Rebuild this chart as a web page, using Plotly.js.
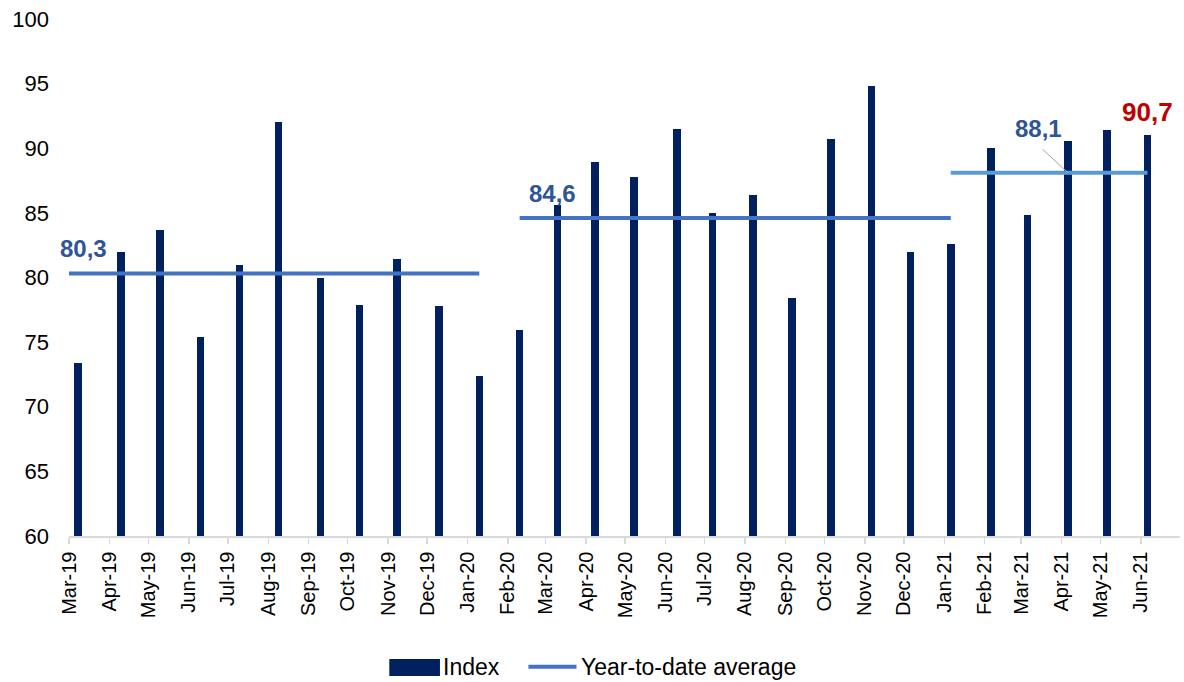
<!DOCTYPE html>
<html>
<head>
<meta charset="utf-8">
<script src="https://cdn.plot.ly/plotly-3.0.1.min.js"></script>
<style>
  html, body { margin: 0; padding: 0; background: #ffffff; }
  #chart { width: 1184px; height: 682px; }
</style>
</head>
<body>
<div id="chart"></div>
<script>
// ---- data ----
const tickLabels = ['Mar-19','Apr-19','May-19','Jun-19','Jul-19','Aug-19','Sep-19','Oct-19','Nov-19','Dec-19',
  'Jan-20','Feb-20','Mar-20','Apr-20','May-20','Jun-20','Jul-20','Aug-20','Sep-20','Oct-20','Nov-20','Dec-20',
  'Jan-21','Feb-21','Mar-21','Apr-21','May-21','Jun-21'];
const tickDates = ['2019-03-01','2019-04-01','2019-05-01','2019-06-01','2019-07-01','2019-08-01','2019-09-01',
  '2019-10-01','2019-11-01','2019-12-01','2020-01-01','2020-02-01','2020-03-01','2020-04-01','2020-05-01',
  '2020-06-01','2020-07-01','2020-08-01','2020-09-01','2020-10-01','2020-11-01','2020-12-01','2021-01-01',
  '2021-02-01','2021-03-01','2021-04-01','2021-05-01','2021-06-01'];
const barDates = ['2019-03-08','2019-04-10','2019-05-10','2019-06-10','2019-07-10','2019-08-09','2019-09-10',
  '2019-10-10','2019-11-08','2019-12-10','2020-01-10','2020-02-10','2020-03-10','2020-04-08','2020-05-08',
  '2020-06-10','2020-07-07','2020-08-07','2020-09-06','2020-10-06','2020-11-06','2020-12-06','2021-01-06',
  '2021-02-06','2021-03-06','2021-04-06','2021-05-06','2021-06-06'];
const indexValues = [73.4, 82.0, 83.7, 75.4, 81.0, 92.0, 80.0, 77.9, 81.4, 77.8, 72.4, 75.9, 85.6, 88.9,
  87.8, 91.5, 85.0, 86.4, 78.4, 90.7, 94.8, 82.0, 82.6, 90.0, 84.8, 90.6, 91.4, 91.0];

const ytd1Dates = ['2019-02-06', '2020-01-10'];
const ytd1Values = [80.3, 80.3];
const ytd2Dates = ['2020-02-10', '2021-01-06'];
const ytd2Values = [84.6, 84.6];
const ytd3Dates = ['2021-01-06', '2021-06-06'];
const ytd3Values = [88.1, 88.1];

const lastLabel = '90,7';
const seriesNames = ['Index', 'Year-to-date average'];

const fmt = v => v.toFixed(1).replace('.', ',');

// ---- styles ----
const FONT = 'Liberation Sans, Arial, sans-serif';
const NAVY = '#002060';
const BLUE = '#4472C4';
const LIGHTBLUE = '#5B9BD5';
const LABELBLUE = '#2F5597';
const RED = '#C00000';
const DAY = 86400000;

const traces = [
  {
    type: 'bar', x: barDates, y: indexValues, name: seriesNames[0],
    width: 5.8 * DAY, marker: { color: NAVY, line: { width: 0 } },
    hoverinfo: 'x+y'
  },
  {
    type: 'scatter', mode: 'lines', x: ytd1Dates, y: ytd1Values, name: seriesNames[1],
    line: { color: BLUE, width: 4 }
  },
  {
    type: 'scatter', mode: 'lines', x: ytd2Dates, y: ytd2Values, name: seriesNames[1],
    line: { color: BLUE, width: 4 }
  },
  {
    type: 'scatter', mode: 'lines', x: ytd3Dates, y: ytd3Values, name: seriesNames[1],
    line: { color: LIGHTBLUE, width: 4 }
  }
];

const n = indexValues.length;
const annotations = [
  { x: '2019-03-12 12:00', y: ytd1Values[0], xref: 'x', yref: 'y', text: '<b>' + fmt(ytd1Values[0]) + '</b>',
    showarrow: false, yanchor: 'middle', xanchor: 'center', yshift: 25,
    font: { family: FONT, size: 24, color: LABELBLUE } },
  { x: '2020-03-06', y: ytd2Values[0], xref: 'x', yref: 'y', text: '<b>' + fmt(ytd2Values[0]) + '</b>',
    showarrow: false, yanchor: 'middle', xanchor: 'center', yshift: 25,
    font: { family: FONT, size: 24, color: LABELBLUE } },
  // leader line for 88,1
  { x: barDates[25], y: ytd3Values[0], xref: 'x', yref: 'y', text: '',
    showarrow: true, arrowhead: 0, arrowwidth: 1, arrowcolor: '#A6A6A6', ax: -27, ay: -25, standoff: 0 },
  { x: barDates[25], y: ytd3Values[0], xref: 'x', yref: 'y', text: '<b>' + fmt(ytd3Values[0]) + '</b>',
    showarrow: false, yanchor: 'middle', xanchor: 'center', xshift: -29, yshift: 44,
    font: { family: FONT, size: 24, color: LABELBLUE } },
  { x: barDates[n - 1], y: indexValues[n - 1], xref: 'x', yref: 'y', text: '<b>' + lastLabel + '</b>',
    showarrow: false, yanchor: 'middle', xanchor: 'center', yshift: 23,
    font: { family: FONT, size: 26, color: RED } },
  // manual legend texts
  { x: 0.3352, y: -0.2534, xref: 'paper', yref: 'paper', text: seriesNames[0], showarrow: false,
    xanchor: 'left', yanchor: 'middle', font: { family: FONT, size: 23, color: '#000000' } },
  { x: 0.4587, y: -0.2534, xref: 'paper', yref: 'paper', text: seriesNames[1], showarrow: false,
    xanchor: 'left', yanchor: 'middle', font: { family: FONT, size: 23, color: '#000000' } }
];

const shapes = [
  { type: 'rect', xref: 'paper', yref: 'paper', x0: 0.2883, x1: 0.3339, y0: -0.2379, y1: -0.2708,
    fillcolor: NAVY, line: { width: 0 } },
  { type: 'line', xref: 'paper', yref: 'paper', x0: 0.4135, x1: 0.4568, y0: -0.2528, y1: -0.2528,
    line: { color: BLUE, width: 4 } }
];

const layout = {
  width: 1184, height: 682,
  margin: { l: 69, r: 4, t: 19, b: 146, pad: 0 },
  paper_bgcolor: '#ffffff', plot_bgcolor: '#ffffff',
  font: { family: FONT, color: '#000000' },
  showlegend: false,
  bargap: 0,
  xaxis: {
    type: 'date',
    range: ['2019-03-01', '2021-07-01'],
    tickmode: 'array', tickvals: tickDates, ticktext: tickLabels,
    tickangle: -90,
    tickfont: { family: FONT, size: 20, color: '#000000' },
    showgrid: false, zeroline: false,
    showline: true, linecolor: '#D9D9D9', linewidth: 1.5,
    ticks: 'outside', ticklen: 6, tickcolor: '#D9D9D9', tickwidth: 1.5,
    fixedrange: true
  },
  yaxis: {
    range: [60, 100], tickmode: 'linear', tick0: 60, dtick: 5,
    tickfont: { family: FONT, size: 22, color: '#000000' },
    showgrid: false, zeroline: false, showline: false,
    ticks: '', ticklabelstandoff: 19,
    fixedrange: true
  },
  annotations: annotations,
  shapes: shapes
};

Plotly.newPlot('chart', traces, layout, { displayModeBar: false, staticPlot: true });
</script>
</body>
</html>
